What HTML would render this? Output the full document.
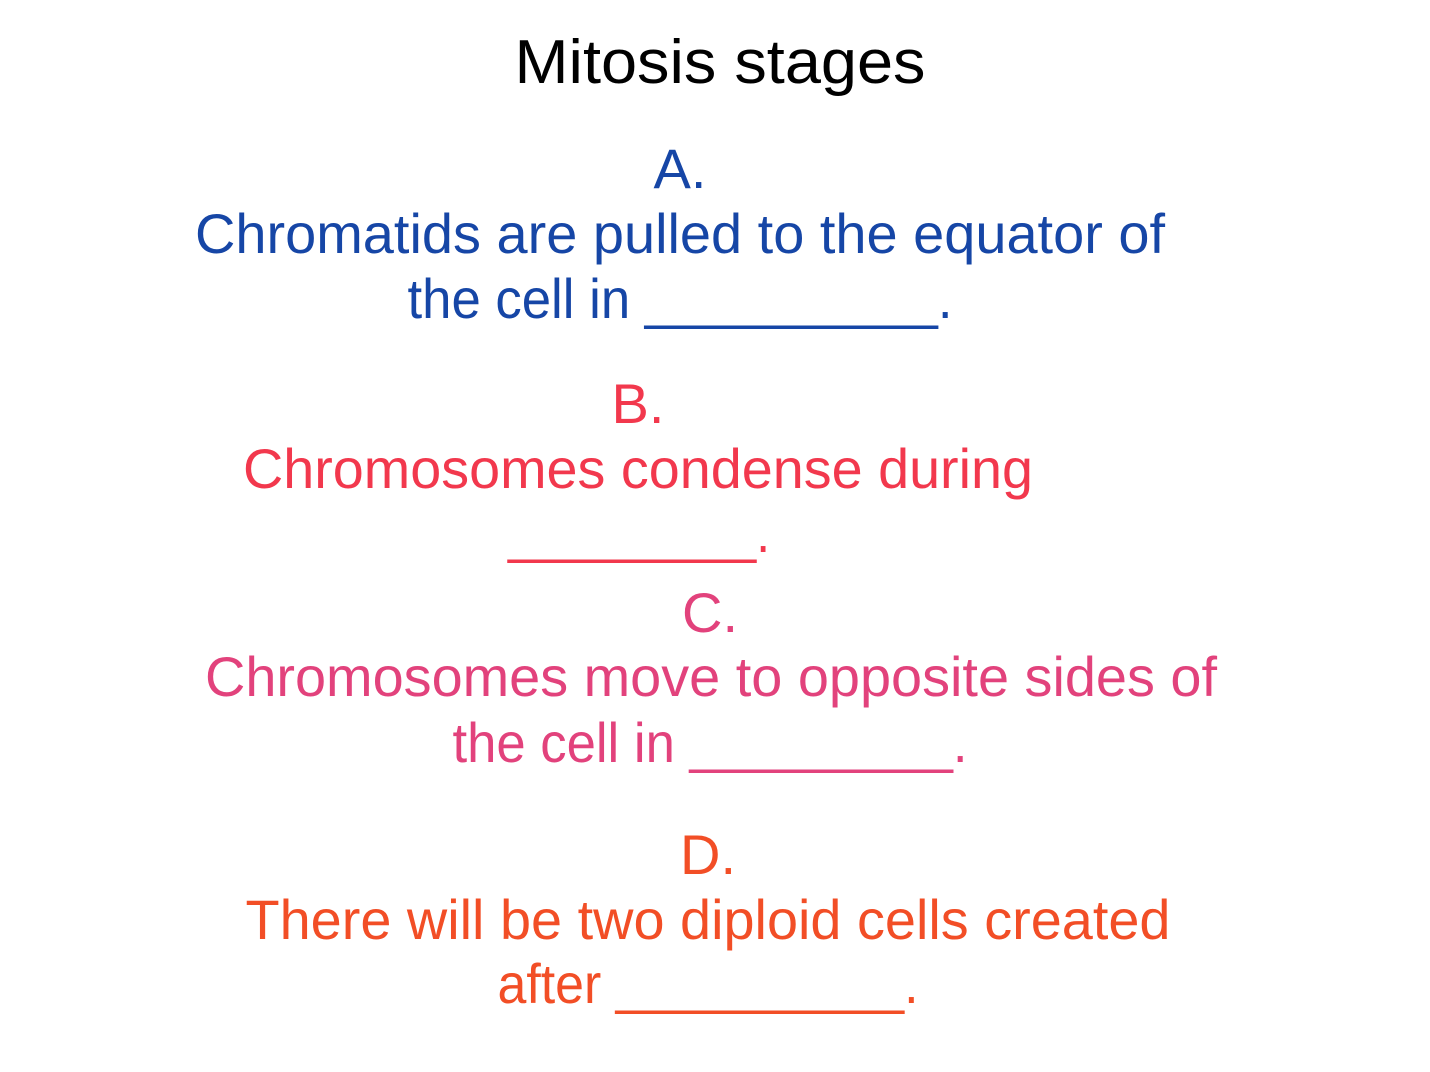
<!DOCTYPE html>
<html>
<head>
<meta charset="utf-8">
<style>
  html,body{margin:0;padding:0;background:#fff;}
  svg{display:block;}
  text{font-family:"Liberation Sans",Arial,sans-serif;}
</style>
</head>
<body>
<svg width="1430" height="1072" viewBox="0 0 1430 1072">
  <rect x="0" y="0" width="1430" height="1072" fill="#ffffff"/>
  <text x="720" y="83" font-size="62" text-anchor="middle" fill="#000" textLength="411" lengthAdjust="spacingAndGlyphs">Mitosis stages</text>

  <g fill="#1646a6" font-size="56" text-anchor="middle">
    <text x="680" y="188">A.</text>
    <text x="680" y="253" textLength="970" lengthAdjust="spacingAndGlyphs">Chromatids are pulled to the equator of</text>
    <text x="680" y="318" textLength="545" lengthAdjust="spacingAndGlyphs">the cell in __________.</text>
  </g>

  <g fill="#f2384d" font-size="56" text-anchor="middle">
    <text x="638" y="423">B.</text>
    <text x="638" y="488" textLength="790" lengthAdjust="spacingAndGlyphs">Chromosomes condense during</text>
    <text x="639" y="552" textLength="262" lengthAdjust="spacingAndGlyphs">_________.</text>
  </g>

  <g fill="#e2427c" font-size="56" text-anchor="middle">
    <text x="710" y="632">C.</text>
    <text x="711" y="696" textLength="1012" lengthAdjust="spacingAndGlyphs">Chromosomes move to opposite sides of</text>
    <text x="710" y="762" textLength="515" lengthAdjust="spacingAndGlyphs">the cell in _________.</text>
  </g>

  <g fill="#f24e26" font-size="56" text-anchor="middle">
    <text x="708" y="874">D.</text>
    <text x="708" y="939" textLength="925" lengthAdjust="spacingAndGlyphs">There will be two diploid cells created</text>
    <text x="708" y="1003" textLength="421" lengthAdjust="spacingAndGlyphs">after __________.</text>
  </g>
</svg>
</body>
</html>
